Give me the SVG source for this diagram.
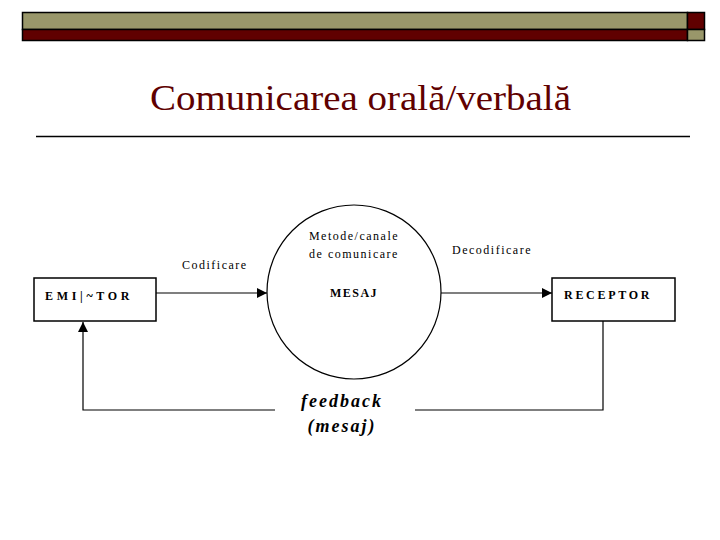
<svg xmlns="http://www.w3.org/2000/svg" width="720" height="540" viewBox="0 0 720 540">
<defs>
<style>
.t{font-family:"Liberation Serif",serif;font-size:12px;fill:#000;letter-spacing:1.5px}
.b{font-weight:bold}
.ln{stroke:#000;stroke-width:1.2;fill:none}
</style>
<marker id="ah" viewBox="0 0 10 10" refX="10" refY="5" markerWidth="10" markerHeight="10" markerUnits="userSpaceOnUse" orient="auto"><path d="M0,0 L10,5 L0,10 z" fill="#000"/></marker>
</defs>
<rect width="720" height="540" fill="#fff"/>
<g id="header">
<rect x="22.5" y="12.5" width="665" height="17" fill="#99976a" stroke="#000" stroke-width="1.5"/>
<rect x="22.5" y="29.5" width="665" height="11" fill="#600000" stroke="#000" stroke-width="1.5"/>
<rect x="687.5" y="12.5" width="17" height="17" fill="#600000" stroke="#000" stroke-width="1.5"/>
<rect x="687.5" y="29.5" width="17" height="11" fill="#99976a" stroke="#000" stroke-width="1.5"/>
</g>
<text x="150" y="110" textLength="421" lengthAdjust="spacingAndGlyphs" font-family="Liberation Serif,serif" font-size="35" fill="#600000">Comunicarea orală/verbală</text>
<line x1="36" y1="136.5" x2="690" y2="136.5" stroke="#000" stroke-width="1.5"/>
<g id="emitator"><rect x="34" y="278" width="122" height="43" fill="#fff" stroke="#000" stroke-width="1.5"/><text class="t b" x="45" y="300" textLength="86">EMI|~TOR</text></g>
<g id="mesaj"><circle cx="354" cy="292" r="87" fill="#fff" stroke="#000" stroke-width="1.2"/>
<text class="t" x="354" y="240" text-anchor="middle" letter-spacing="0.5">Metode/canale</text>
<text class="t" x="354" y="258" text-anchor="middle" letter-spacing="0.5">de comunicare</text>
<text class="t b" x="354" y="297" text-anchor="middle" letter-spacing="4">MESAJ</text></g>
<g id="receptor"><rect x="552" y="278" width="123" height="43" fill="#fff" stroke="#000" stroke-width="1.5"/><text class="t b" x="564" y="299" textLength="87">RECEPTOR</text></g>
<g id="connectors">
<line class="ln" x1="156" y1="293" x2="267" y2="293" marker-end="url(#ah)"/>
<line class="ln" x1="441" y1="293" x2="552" y2="293" marker-end="url(#ah)"/>
<polyline class="ln" points="603,321 603,410 415,410"/>
<polyline class="ln" points="275,410 83,410 83,322" marker-end="url(#ah)"/>
</g>
<text class="t" x="182" y="269" letter-spacing="1">Codificare</text>
<text class="t" x="452" y="254" letter-spacing="1">Decodificare</text>
<text x="342" y="407" text-anchor="middle" font-family="Liberation Serif,serif" font-size="18" font-style="italic" font-weight="bold" letter-spacing="2">feedback</text>
<text x="342" y="432" text-anchor="middle" font-family="Liberation Serif,serif" font-size="18" font-style="italic" font-weight="bold" letter-spacing="2">(mesaj)</text>
</svg>
